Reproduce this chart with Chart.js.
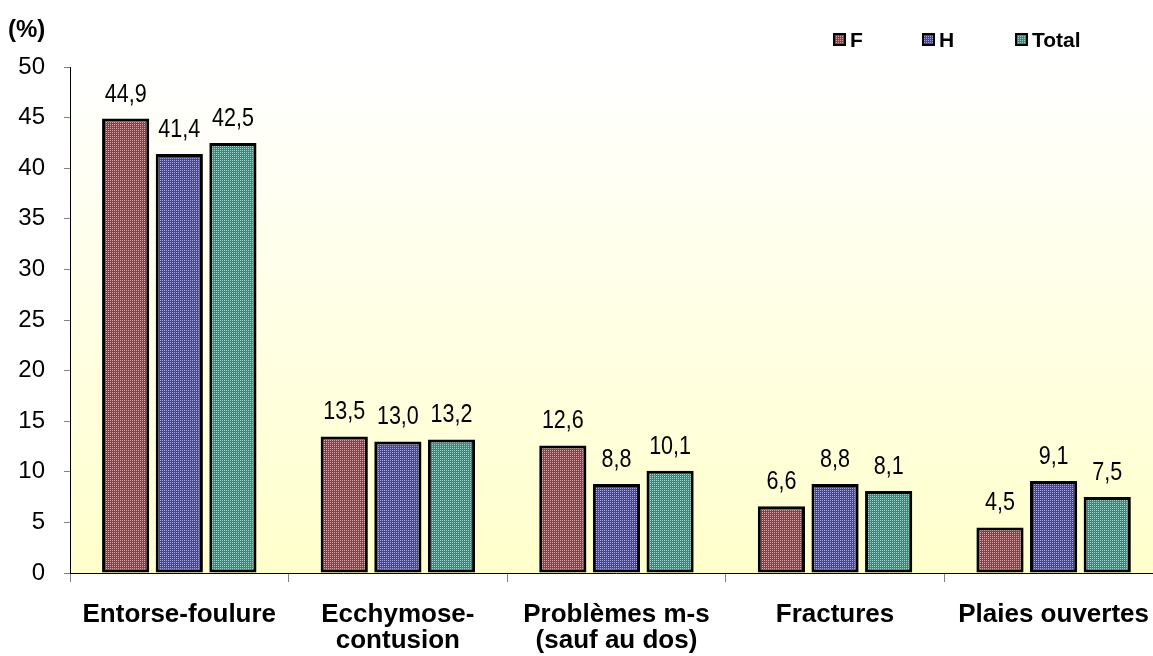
<!DOCTYPE html>
<html lang="fr">
<head>
<meta charset="utf-8">
<script src="https://cdn.jsdelivr.net/npm/chart.js@4"></script>
<style>
  html, body { margin: 0; padding: 0; background: #fff; overflow: hidden; }
  #wrap { position: relative; width: 1169px; height: 656px; }
</style>
</head>
<body>
<div id="wrap"><canvas id="lesions"></canvas></div>
<script>
// nature de la lésion, en % des cas
const categories = [
  'Entorse-foulure',
  ['Ecchymose-', 'contusion'],
  ['Problèmes m-s', '(sauf au dos)'],
  'Fractures',
  'Plaies ouvertes'
];
const femmes = [44.9, 13.5, 12.6, 6.6, 4.5];
const hommes = [41.4, 13.0, 8.8, 8.8, 9.1];
const total = [42.5, 13.2, 10.1, 8.1, 7.5];
const yTicks = [0, 5, 10, 15, 20, 25, 30, 35, 40, 45, 50];

const SANS = "'Liberation Sans', Arial, sans-serif";

// small dotted fill, like the old office patterns
function dotted(dark, light) {
  const c = document.createElement('canvas');
  c.width = 2; c.height = 2;
  const g = c.getContext('2d');
  g.fillStyle = dark;
  g.fillRect(0, 0, 2, 2);
  g.fillStyle = light;
  g.fillRect(0, 0, 1, 1);
  return g.createPattern(c, 'repeat');
}

const fillF = dotted('#923c44', '#daa2a4');
const fillH = dotted('#4646a0', '#a4a4e2');
const fillT = dotted('#2d8e89', '#98d6cc');

// yellowish wash behind the bars
const plotBackground = {
  id: 'plotBackground',
  beforeDraw(chart) {
    const { ctx, chartArea: a } = chart;
    const grad = ctx.createLinearGradient(0, a.top, 0, a.bottom);
    grad.addColorStop(0, '#ffffff');
    grad.addColorStop(1, '#ffffcc');
    ctx.save();
    ctx.fillStyle = grad;
    ctx.fillRect(a.left, a.top, a.right - a.left, a.bottom - a.top);
    ctx.restore();
  }
};

// value over each bar, decimal comma, narrow lettering
const valueLabels = {
  id: 'valueLabels',
  afterDatasetsDraw(chart) {
    const ctx = chart.ctx;
    chart.data.datasets.forEach((ds, i) => {
      chart.getDatasetMeta(i).data.forEach((bar, j) => {
        const txt = ds.data[j].toFixed(1).replace('.', ',');
        ctx.save();
        ctx.translate(bar.x, bar.y - 17);
        ctx.scale(0.86, 1);
        ctx.font = '25px ' + SANS;
        ctx.fillStyle = '#000';
        ctx.textAlign = 'center';
        ctx.textBaseline = 'alphabetic';
        ctx.fillText(txt, 0, 0);
        ctx.restore();
      });
    });
  }
};

// unit at top left and legend at top right
const headerBits = {
  id: 'headerBits',
  afterDraw(chart) {
    const ctx = chart.ctx;
    ctx.save();
    ctx.fillStyle = '#000';
    ctx.textBaseline = 'alphabetic';
    ctx.font = 'bold 24px ' + SANS;
    ctx.fillText('(%)', 8, 37);

    const xs = [833, 922, 1015];
    ctx.font = 'bold 21px ' + SANS;
    chart.data.datasets.forEach((ds, i) => {
      const x = xs[i];
      ctx.fillStyle = ds.backgroundColor;
      ctx.fillRect(x, 33, 13, 13);
      ctx.strokeStyle = '#000';
      ctx.lineWidth = 2;
      ctx.strokeRect(x + 1, 34, 11, 11);
      ctx.fillStyle = '#000';
      ctx.fillText(ds.label, x + 17, 47);
    });
    ctx.restore();
  }
};

new Chart(document.getElementById('lesions'), {
  type: 'bar',
  data: {
    labels: categories,
    datasets: [
      { label: 'F', data: femmes, backgroundColor: fillF },
      { label: 'H', data: hommes, backgroundColor: fillH },
      { label: 'Total', data: total, backgroundColor: fillT }
    ]
  },
  options: {
    responsive: true,
    maintainAspectRatio: false,
    animation: false,
    layout: { padding: { top: 67, left: 0, right: 0, bottom: 0 } },
    datasets: {
      bar: {
        borderColor: '#000',
        borderWidth: 3,
        borderSkipped: false,
        categoryPercentage: 0.736,
        barPercentage: 0.88
      }
    },
    plugins: {
      legend: { display: false },
      tooltip: { enabled: false }
    },
    scales: {
      x: {
        offset: true,
        grid: {
          offset: true,
          drawOnChartArea: false,
          drawTicks: true,
          tickLength: 9,
          color: '#808080'
        },
        border: { color: '#000', width: 1 },
        ticks: {
          color: '#000',
          padding: 20,
          maxRotation: 0,
          autoSkip: false,
          font: { family: SANS, size: 26, weight: 'bold', lineHeight: 1.0 }
        },
        afterFit(scale) { scale.height = 83; }
      },
      y: {
        min: 0,
        max: 50,
        afterBuildTicks(scale) { scale.ticks = yTicks.map(v => ({ value: v })); },
        grid: {
          drawOnChartArea: false,
          drawTicks: true,
          tickLength: 6,
          color: '#808080'
        },
        border: { color: '#000', width: 1 },
        ticks: {
          color: '#000',
          padding: 19,
          font: { family: SANS, size: 24 }
        },
        afterFit(scale) { scale.width = 70; }
      }
    }
  },
  plugins: [plotBackground, valueLabels, headerBits]
});
</script>
</body>
</html>
